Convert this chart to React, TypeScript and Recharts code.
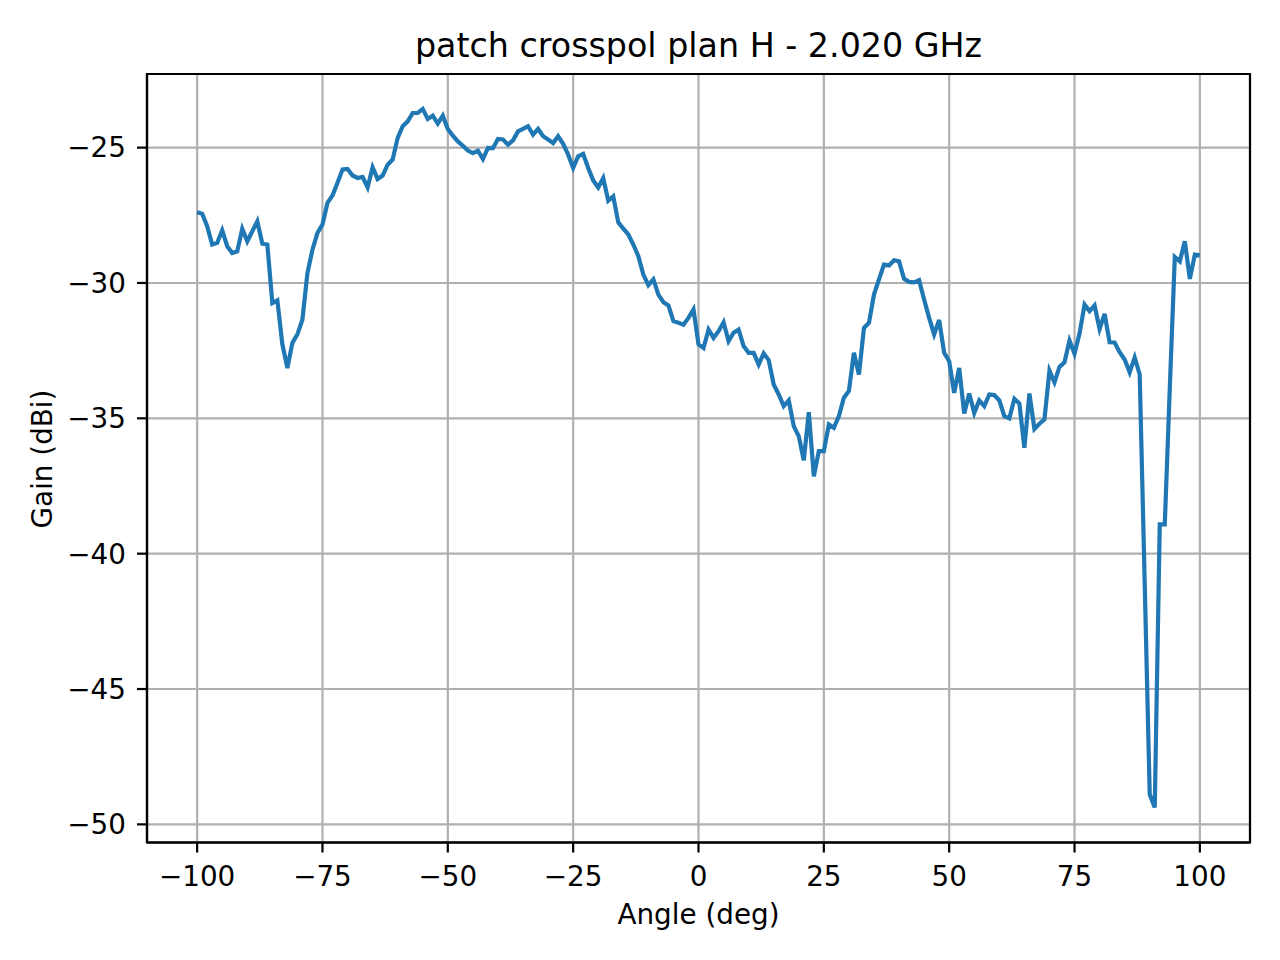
import { LineChart, Line, XAxis, YAxis, CartesianGrid, ReferenceArea } from 'recharts';

// angle sampling, one point per degree
const ANGLES = [
  -100, -99, -98, -97, -96, -95, -94, -93, -92, -91,
  -90, -89, -88, -87, -86, -85, -84, -83, -82, -81,
  -80, -79, -78, -77, -76, -75, -74, -73, -72, -71,
  -70, -69, -68, -67, -66, -65, -64, -63, -62, -61,
  -60, -59, -58, -57, -56, -55, -54, -53, -52, -51,
  -50, -49, -48, -47, -46, -45, -44, -43, -42, -41,
  -40, -39, -38, -37, -36, -35, -34, -33, -32, -31,
  -30, -29, -28, -27, -26, -25, -24, -23, -22, -21,
  -20, -19, -18, -17, -16, -15, -14, -13, -12, -11,
  -10, -9, -8, -7, -6, -5, -4, -3, -2, -1,
  0, 1, 2, 3, 4, 5, 6, 7, 8, 9,
  10, 11, 12, 13, 14, 15, 16, 17, 18, 19,
  20, 21, 22, 23, 24, 25, 26, 27, 28, 29,
  30, 31, 32, 33, 34, 35, 36, 37, 38, 39,
  40, 41, 42, 43, 44, 45, 46, 47, 48, 49,
  50, 51, 52, 53, 54, 55, 56, 57, 58, 59,
  60, 61, 62, 63, 64, 65, 66, 67, 68, 69,
  70, 71, 72, 73, 74, 75, 76, 77, 78, 79,
  80, 81, 82, 83, 84, 85, 86, 87, 88, 89,
  90, 91, 92, 93, 94, 95, 96, 97, 98, 99,
  100,
];

// gain in dBi
const GAIN = [
  -27.39, -27.44, -27.9, -28.58, -28.52, -28.05, -28.64, -28.89, -28.83, -28.0,
  -28.46, -28.09, -27.72, -28.55, -28.58, -30.74, -30.64, -32.27, -33.14, -32.21,
  -31.9, -31.35, -29.63, -28.77, -28.15, -27.84, -27.04, -26.77, -26.3, -25.81,
  -25.79, -26.03, -26.12, -26.08, -26.47, -25.73, -26.16, -26.03, -25.63, -25.44,
  -24.64, -24.21, -24.03, -23.72, -23.72, -23.57, -23.94, -23.82, -24.11, -23.82,
  -24.31, -24.56, -24.77, -24.93, -25.11, -25.2, -25.11, -25.42, -25.01, -25.02,
  -24.68, -24.7, -24.89, -24.73, -24.4, -24.31, -24.21, -24.52, -24.31, -24.58,
  -24.7, -24.83, -24.58, -24.86, -25.26, -25.75, -25.32, -25.23, -25.75, -26.21,
  -26.47, -26.12, -26.96, -26.8, -27.76, -27.99, -28.21, -28.58, -29.01, -29.69,
  -30.08, -29.87, -30.43, -30.71, -30.83, -31.41, -31.47, -31.54, -31.29, -30.98,
  -32.27, -32.4, -31.72, -32.03, -31.78, -31.45, -32.15, -31.84, -31.72, -32.33,
  -32.58, -32.58, -33.01, -32.6, -32.85, -33.75, -34.12, -34.55, -34.34, -35.29,
  -35.66, -36.55, -34.77, -37.14, -36.21, -36.21, -35.23, -35.35, -34.92, -34.24,
  -33.99, -32.58, -33.38, -31.66, -31.47, -30.43, -29.87, -29.32, -29.35, -29.16,
  -29.2, -29.85, -29.96, -29.98, -29.9, -30.61, -31.29, -31.9, -31.37, -32.58,
  -32.89, -34.06, -33.14, -34.82, -34.08, -34.8, -34.34, -34.55, -34.12, -34.14,
  -34.34, -34.92, -35.0, -34.28, -34.45, -36.09, -34.08, -35.39, -35.2, -35.04,
  -33.24, -33.67, -33.1, -32.93, -32.13, -32.61, -31.87, -30.8, -31.04, -30.83,
  -31.7, -31.14, -32.19, -32.2, -32.56, -32.83, -33.3, -32.75, -33.38, -41.1,
  -48.89, -49.38, -38.92, -38.92, -33.9, -29.04, -29.2, -28.46, -29.85, -28.95,
  -28.98,
];

const X_TICKS = [-100, -75, -50, -25, 0, 25, 50, 75, 100];
const Y_TICKS = [-50, -45, -40, -35, -30, -25];
const X_DOMAIN = [-110, 110];
const Y_DOMAIN = [-50.67, -22.28];

const data = ANGLES.map((angle, i) => ({ angle, gain: GAIN[i] }));

// matplotlib uses a real minus sign on ticks
const fmt = (v: number) => String(v).replace('-', '\u2212');

const FONT = '"DejaVu Sans", sans-serif';
const tickStyle = { fill: '#000', fontSize: 27.8, fontFamily: FONT };

export default function App() {
  return (
    <div style={{ width: 1280, height: 960, background: '#fff' }}>
      <style>{'body{margin:0}'}</style>
      <LineChart
        width={1280}
        height={960}
        data={data}
        margin={{ top: 74, right: 30, bottom: 0, left: 0 }}
      >
        <CartesianGrid stroke="#b0b0b0" strokeWidth={2.2} />
        <XAxis
          dataKey="angle"
          type="number"
          domain={X_DOMAIN}
          ticks={X_TICKS}
          tickFormatter={fmt}
          height={117.5}
          tickSize={10}
          tickMargin={14}
          tick={tickStyle}
          axisLine={{ stroke: '#000', strokeWidth: 2.2 }}
          tickLine={{ stroke: '#000', strokeWidth: 2.2 }}
          allowDataOverflow
        />
        <YAxis
          type="number"
          domain={Y_DOMAIN}
          ticks={Y_TICKS}
          tickFormatter={fmt}
          width={147}
          tickSize={10}
          tickMargin={11}
          tick={tickStyle}
          axisLine={{ stroke: '#000', strokeWidth: 2.2 }}
          tickLine={{ stroke: '#000', strokeWidth: 2.2 }}
          allowDataOverflow
        />
        <Line
          type="linear"
          dataKey="gain"
          stroke="#1f77b4"
          strokeWidth={4.2}
          dot={false}
          activeDot={false}
          isAnimationActive={false}
        />
        <ReferenceArea
          x1={X_DOMAIN[0]}
          x2={X_DOMAIN[1]}
          y1={Y_DOMAIN[0]}
          y2={Y_DOMAIN[1]}
          fill="none"
          stroke="#000"
          strokeWidth={2.2}
          ifOverflow="visible"
        />
        <text x={698.5} y={57} textAnchor="middle" fontSize={33.3} fontFamily={FONT} fill="#000">
          patch crosspol plan H - 2.020 GHz
        </text>
        <text x={698.5} y={924} textAnchor="middle" fontSize={27.8} fontFamily={FONT} fill="#000">
          Angle (deg)
        </text>
        <text
          transform="translate(52,459) rotate(-90)"
          textAnchor="middle"
          fontSize={27.8}
          fontFamily={FONT}
          fill="#000"
        >
          Gain (dBi)
        </text>
      </LineChart>
    </div>
  );
}
